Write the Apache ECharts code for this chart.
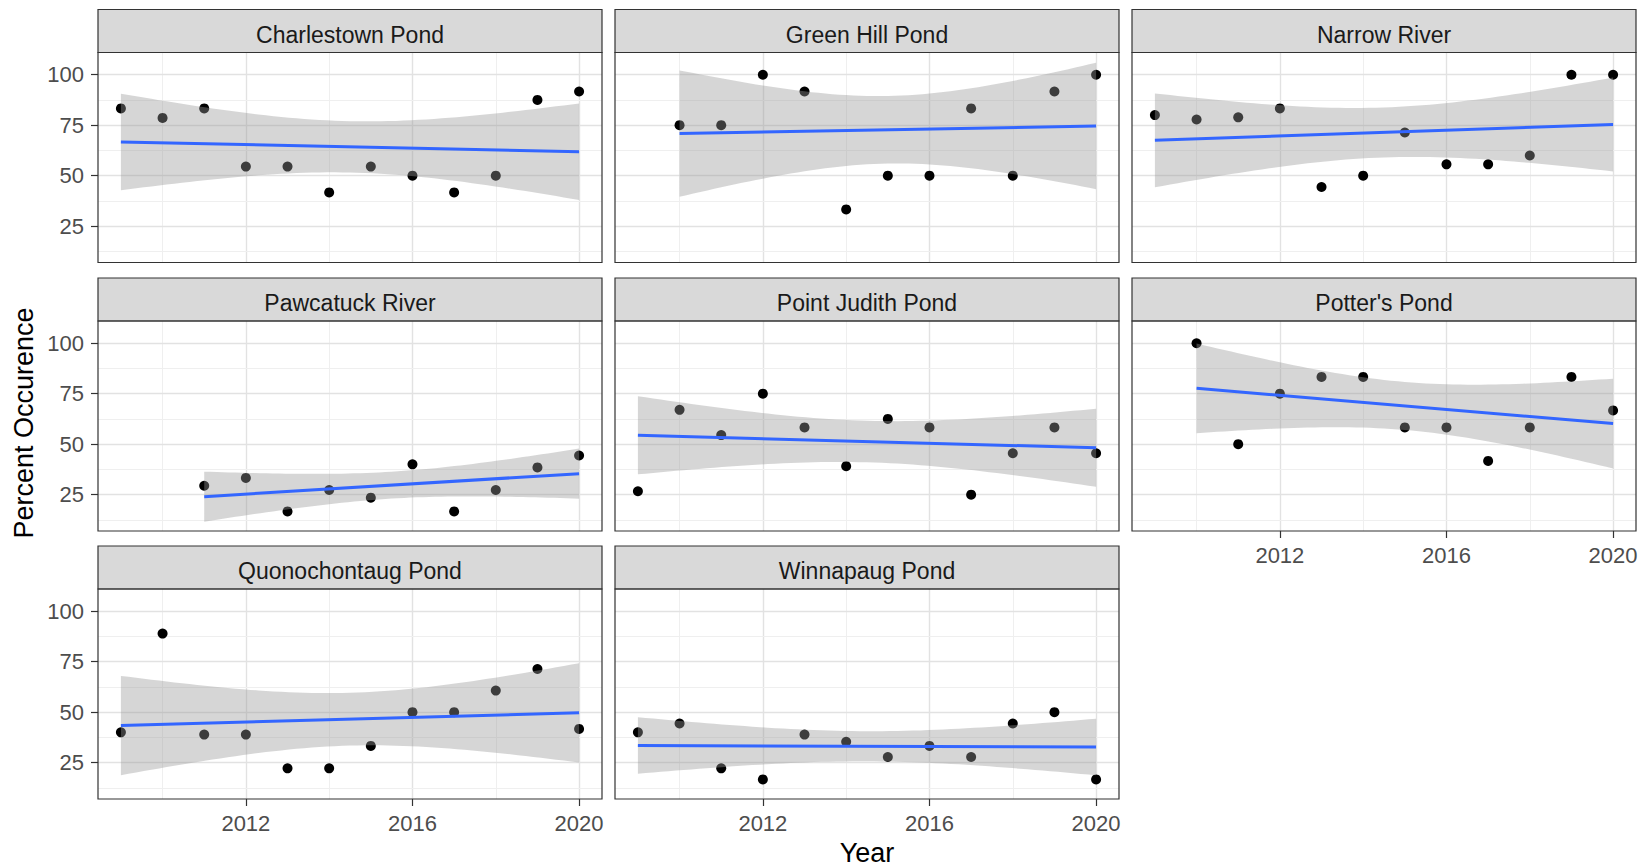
<!DOCTYPE html>
<html>
<head>
<meta charset="utf-8">
<script src="https://cdn.jsdelivr.net/npm/echarts@6/dist/echarts.min.js"></script>
<style>
html,body{margin:0;padding:0;background:#ffffff;}
#chart{width:1648px;height:867px;}
</style>
</head>
<body>
<div id="chart"></div>
<script>
// ---------------- data ----------------
const years = [2009, 2010, 2011, 2012, 2013, 2014, 2015, 2016, 2017, 2018, 2019, 2020];
const siteNames = ['Charlestown Pond', 'Green Hill Pond', 'Narrow River', 'Pawcatuck River',
                   'Point Judith Pond', "Potter's Pond", 'Quonochontaug Pond', 'Winnapaug Pond'];
const charlestownPond   = [83.3, 78.6, 83.3, 54.5, 54.5, 41.7, 54.5, 50.0, 41.7, 50.0, 87.5, 91.7];
const greenHillPond     = [null, 75.0, 75.0, 100, 91.7, 33.3, 50.0, 50.0, 83.3, 50.0, 91.7, 100];
const narrowRiver       = [80.0, 77.8, 78.9, 83.3, 44.4, 50.0, 71.4, 55.6, 55.6, 60.0, 100, 100];
const pawcatuckRiver    = [null, null, 29.4, 33.3, 16.7, 27.3, 23.5, 40.0, 16.7, 27.3, 38.5, 44.4];
const pointJudithPond   = [26.7, 67.0, 54.5, 75.0, 58.3, 39.1, 62.5, 58.3, 25.0, 45.5, 58.3, 45.5];
const pottersPond       = [null, 100, 50.0, 75.0, 83.3, 83.3, 58.3, 58.3, 41.7, 58.3, 83.3, 66.7];
const quonochontaugPond = [40.0, 88.9, 38.9, 38.9, 22.2, 22.2, 33.3, 50.0, 50.0, 60.7, 71.4, 41.7];
const winnapaugPond     = [40.0, 44.4, 22.2, 16.7, 38.9, 35.3, 27.8, 33.3, 27.8, 44.4, 50.0, 16.7];
const xTickLabels = [2012, 2016, 2020];
const yTickLabels = [25, 50, 75, 100];
const xMinorGrid = [2010, 2014, 2018];
const yMinorGrid = [12.5, 37.5, 62.5, 87.5];
// two-sided 95% t quantiles by residual degrees of freedom (geom_smooth, method = "lm")
const tCrit = {8: 2.306, 9: 2.262, 10: 2.228};

const siteValues = [charlestownPond, greenHillPond, narrowRiver, pawcatuckRiver,
                    pointJudithPond, pottersPond, quonochontaugPond, winnapaugPond];

// ---------------- layout ----------------
const colLeft = [98, 615, 1132];
const panelW = 504;
const plotTop = [52.5, 321, 589];
const plotH = 210;
const stripH = 43;
const xRange = [2008.45, 2020.55];
const yRange = [7, 111];
const FONT = '"Liberation Sans", Arial, Helvetica, sans-serif';

// linear model fit + 95% confidence band (the smoother layer)
function lmBand(xs, ys) {
  const n = xs.length;
  const xbar = xs.reduce((a, b) => a + b, 0) / n;
  const ybar = ys.reduce((a, b) => a + b, 0) / n;
  let sxx = 0, sxy = 0;
  for (let i = 0; i < n; i++) { sxx += (xs[i] - xbar) ** 2; sxy += (xs[i] - xbar) * (ys[i] - ybar); }
  const b = sxy / sxx, a = ybar - b * xbar;
  let sse = 0;
  for (let i = 0; i < n; i++) sse += (ys[i] - (a + b * xs[i])) ** 2;
  const s = Math.sqrt(sse / (n - 2));
  const t = tCrit[n - 2];
  const x0 = Math.min(...xs), x1 = Math.max(...xs);
  const band = [], line = [];
  const N = 60;
  for (let k = 0; k <= N; k++) {
    const x = x0 + (x1 - x0) * k / N;
    const f = a + b * x;
    const se = s * Math.sqrt(1 / n + (x - xbar) ** 2 / sxx);
    band.push([x, f - t * se, f + t * se]);
  }
  line.push([x0, a + b * x0], [x1, a + b * x1]);
  return {band, line};
}

const grids = [], xAxes = [], yAxes = [], series = [], graphics = [];

siteNames.forEach((name, i) => {
  const row = Math.floor(i / 3), col = i % 3;
  const left = colLeft[col], top = plotTop[row];
  const showX = (i >= 5);
  const showY = (col === 0);

  const pts = [];
  years.forEach((yr, k) => { if (siteValues[i][k] != null) pts.push([yr, siteValues[i][k]]); });
  const fit = lmBand(pts.map(p => p[0]), pts.map(p => p[1]));

  grids.push({left: left, top: top, width: panelW, height: plotH, show: false});

  xAxes.push({
    type: 'value', gridIndex: i, min: xRange[0], max: xRange[1],
    splitLine: {show: false}, axisLine: {show: false},
    axisTick: {show: showX, customValues: xTickLabels, length: 7, lineStyle: {color: '#333333', width: 1.2}},
    axisLabel: {show: showX, customValues: xTickLabels, margin: 13, color: '#4d4d4d',
                fontSize: 22, fontFamily: FONT, formatter: v => String(v)}
  });
  yAxes.push({
    type: 'value', gridIndex: i, min: yRange[0], max: yRange[1],
    splitLine: {show: false}, axisLine: {show: false},
    axisTick: {show: showY, customValues: yTickLabels, length: 7, lineStyle: {color: '#333333', width: 1.2}},
    axisLabel: {show: showY, customValues: yTickLabels, margin: 14, color: '#4d4d4d',
                fontSize: 22, fontFamily: FONT, formatter: v => String(v)}
  });

  const major = {color: '#e2e2e2', width: 1.4, type: 'solid'};
  const minor = {color: '#efefef', width: 1, type: 'solid'};
  const gridLines = [];
  xTickLabels.forEach(v => gridLines.push({xAxis: v, lineStyle: major}));
  xMinorGrid.forEach(v => gridLines.push({xAxis: v, lineStyle: minor}));
  yTickLabels.forEach(v => gridLines.push({yAxis: v, lineStyle: major}));
  yMinorGrid.forEach(v => gridLines.push({yAxis: v, lineStyle: minor}));

  series.push({
    type: 'line', xAxisIndex: i, yAxisIndex: i, data: [], z: 1, silent: true,
    markLine: {symbol: ['none', 'none'], silent: true, animation: false, z: 1,
               label: {show: false}, data: gridLines}
  });
  series.push({
    type: 'scatter', xAxisIndex: i, yAxisIndex: i, data: pts, z: 6, silent: true,
    symbol: 'circle', symbolSize: 10, itemStyle: {color: '#000000', opacity: 1}
  });
  const band = fit.band;
  series.push({
    type: 'custom', xAxisIndex: i, yAxisIndex: i, z: 7, silent: true,
    data: band, encode: {x: 0, y: [1, 2]},
    renderItem: (params, api) => {
      if (params.dataIndex !== 0) return null;
      const poly = band.map(d => api.coord([d[0], d[2]]));
      for (let k = band.length - 1; k >= 0; k--) poly.push(api.coord([band[k][0], band[k][1]]));
      return {type: 'polygon', shape: {points: poly}, style: {fill: 'rgba(153,153,153,0.4)'}};
    }
  });
  series.push({
    type: 'line', xAxisIndex: i, yAxisIndex: i, data: fit.line, z: 8, silent: true,
    symbol: 'none', lineStyle: {color: '#3366FF', width: 3}
  });

  // strip
  graphics.push({
    type: 'rect', z: 50, silent: true,
    shape: {x: left, y: top - stripH, width: panelW, height: stripH},
    style: {fill: '#d9d9d9', stroke: '#333333', lineWidth: 1.2}
  });
  graphics.push({
    type: 'text', z: 51, silent: true, x: left + panelW / 2, y: top - stripH + 25,
    style: {text: name, align: 'center', verticalAlign: 'middle', fill: '#1a1a1a',
            font: '23px ' + FONT}
  });
  // panel border
  graphics.push({
    type: 'rect', z: 60, silent: true,
    shape: {x: left, y: top, width: panelW, height: plotH},
    style: {fill: 'none', stroke: '#333333', lineWidth: 1.2}
  });
});

graphics.push({
  type: 'text', z: 51, silent: true, x: (colLeft[0] + colLeft[2] + panelW) / 2, y: 853,
  style: {text: 'Year', align: 'center', verticalAlign: 'middle', fill: '#000000', font: '27px ' + FONT}
});
graphics.push({
  type: 'text', z: 51, silent: true, x: 24, y: 423, rotation: Math.PI / 2,
  style: {text: 'Percent Occurence', align: 'center', verticalAlign: 'middle', fill: '#000000', font: '27px ' + FONT}
});

const chart = echarts.init(document.getElementById('chart'), null, {renderer: 'svg'});
chart.setOption({
  animation: false,
  backgroundColor: '#ffffff',
  grid: grids,
  xAxis: xAxes,
  yAxis: yAxes,
  series: series,
  graphic: graphics
});
</script>
</body>
</html>
